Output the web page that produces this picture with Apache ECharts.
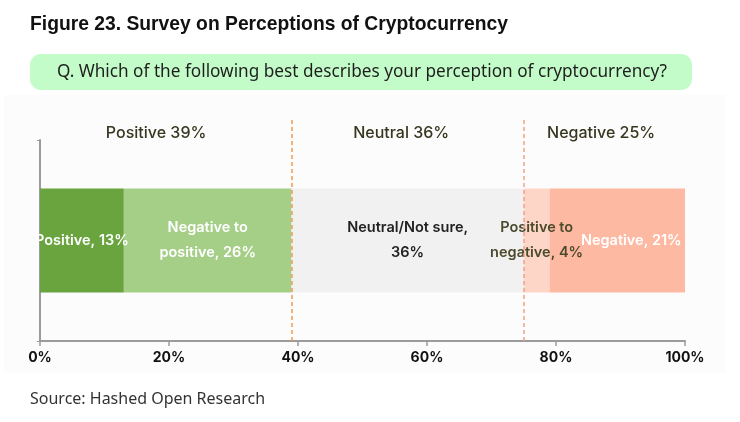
<!DOCTYPE html>
<html>
<head>
<meta charset="utf-8">
<script src="https://cdn.jsdelivr.net/npm/echarts@6/dist/echarts.min.js"></script>
<style>
  html, body { margin: 0; padding: 0; background: #fff; }
  #main { width: 740px; height: 422px; }
</style>
</head>
<body>
<div id="main"></div>
<script>
  // survey data
  var segNames = ['Positive', 'Negative to\npositive', 'Neutral/Not sure,', 'Positive to\nnegative', 'Negative'];
  var segLabels = ['Positive, 13%', 'Negative to\npositive, 26%', 'Neutral/Not sure,\n36%', 'Positive to\nnegative, 4%', 'Negative, 21%'];
  var segValues = [13, 26, 36, 4, 21];
  var segColors = ['#69a43f', '#a5cf87', '#f1f1f1', '#fdd6c8', '#feb9a2'];
  var segTextColors = ['#fff', '#fff', '#222', '#4b4a2c', '#fff'];

  var groupNames = ['Positive 39%', 'Neutral 36%', 'Negative 25%'];
  var groupCenters = [18, 56, 87];
  var dividers = [39, 75];
  var dividerColors = ['#f49b4c', '#f6a088'];

  var chart = echarts.init(document.getElementById('main'));

  var series = segValues.map(function (v, i) {
    return {
      name: segNames[i],
      type: 'bar',
      stack: 'all',
      xAxisIndex: 1,
      yAxisIndex: 1,
      barWidth: 104,
      itemStyle: { color: segColors[i] },
      label: {
        show: true,
        formatter: segLabels[i],
        color: segTextColors[i],
        fontFamily: 'Inter',
        fontWeight: 600,
        fontSize: 14.5,
        lineHeight: 25,
        offset: i === 4 ? [14, 0] : [0, 0]
      },
      data: [v]
    };
  });

  // dashed dividers and group titles live on a taller hidden grid
  series.push({
    type: 'scatter',
    xAxisIndex: 0,
    yAxisIndex: 0,
    symbolSize: 0,
    silent: true,
    itemStyle: { opacity: 1 },
    label: {
      show: true,
      formatter: function (p) { return groupNames[p.dataIndex]; },
      color: '#38361f',
      opacity: 1,
      fontFamily: 'Inter',
      fontWeight: 500,
      fontSize: 16
    },
    data: groupCenters.map(function (c) { return [c, 94]; }),
    markLine: {
      silent: true,
      symbol: 'none',
      label: { show: false },
      data: dividers.map(function (d, i) {
        return { xAxis: d, lineStyle: { color: dividerColors[i], type: [4, 3], width: 1.5, opacity: 1 } };
      })
    }
  });

  var option = {
    animation: false,
    backgroundColor: '#fff',
    graphic: [
      { type: 'rect', shape: { x: 4, y: 95, width: 722, height: 278 }, style: { fill: '#fcfcfc' }, z: -10 },
      { type: 'rect', shape: { x: 30, y: 54, width: 662, height: 36, r: 11 }, style: { fill: '#c3fcc8' } },
      {
        type: 'text', x: 362, y: 72,
        style: {
          text: 'Q. Which of the following best describes your perception of cryptocurrency?',
          fill: '#1e1e1e', font: '17.2px "Noto Sans"', align: 'center', verticalAlign: 'middle'
        }
      },
      {
        type: 'text', x: 30, y: 25,
        style: {
          text: 'Figure 23. Survey on Perceptions of Cryptocurrency',
          fill: '#111', font: 'bold 19.3px "Liberation Sans"', verticalAlign: 'middle'
        }
      },
      {
        type: 'text', x: 30, y: 399,
        style: {
          text: 'Source: Hashed Open Research',
          fill: '#333', font: '16px "Noto Sans"', verticalAlign: 'middle'
        }
      }
    ],
    grid: [
      { left: 40, right: 55, top: 120, bottom: 81 },
      { left: 40, right: 55, top: 140, bottom: 81 }
    ],
    xAxis: [
      { gridIndex: 0, type: 'value', min: 0, max: 100, show: false },
      {
        gridIndex: 1, type: 'value', min: 0, max: 100, interval: 20,
        axisLine: { show: true, lineStyle: { color: '#9b9b9b', width: 2 } },
        axisTick: { show: true, length: 5, lineStyle: { color: '#9b9b9b', width: 1.5 } },
        splitLine: { show: false },
        axisLabel: {
          formatter: '{value}%', color: '#111', fontFamily: 'Inter',
          fontWeight: 'bold', fontSize: 14, margin: 10
        }
      }
    ],
    yAxis: [
      { gridIndex: 0, type: 'value', min: 0, max: 100, show: false },
      {
        gridIndex: 1, type: 'category', data: [''],
        axisLine: { show: true, lineStyle: { color: '#9b9b9b', width: 2 } },
        axisTick: { show: true, length: 3, lineStyle: { color: '#9b9b9b' } },
        axisLabel: { show: false }
      }
    ],
    series: series
  };

  chart.setOption(option);
  window.addEventListener('resize', function () {
    chart.resize();
  });
</script>
</body>
</html>
